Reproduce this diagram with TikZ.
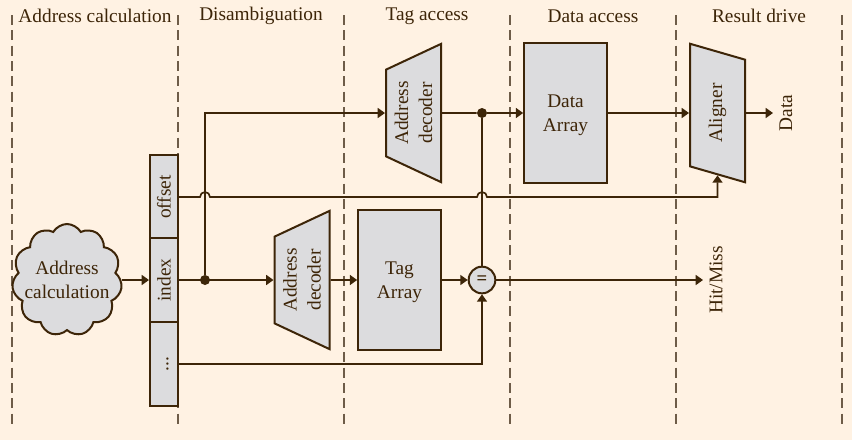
\documentclass[tikz,border=0pt]{standalone}
\usepackage{fontspec}
\setmainfont{Liberation Serif}
\usetikzlibrary{arrows.meta,shapes.geometric,shapes.symbols}
\definecolor{pagebg}{HTML}{FFF2E3}
\definecolor{inkbrown}{HTML}{3D2508}
\definecolor{blockgray}{HTML}{DCDCDE}
\definecolor{phaseline}{HTML}{6E5C48}
\newcommand{\lowerline}{\rule{0pt}{13.5pt}}

\begin{document}
\begin{tikzpicture}[
    x=0.75pt,y=-0.75pt,
    every node/.style={font=\fontsize{14.5}{18}\selectfont,text=inkbrown,align=center},
    phase/.style={phaseline,line width=0.8pt,dash pattern=on 7.5pt off 4pt},
    wire/.style={inkbrown,line width=1.25pt},
    msg/.style={wire,-{Triangle[length=5.5pt,width=7.5pt]}},
    block/.style={draw=inkbrown,line width=1.5pt,fill=blockgray,inner sep=0pt,minimum width=62pt,minimum height=104.5pt},
    field/.style={draw=inkbrown,line width=1.5pt,fill=blockgray,inner sep=0pt,minimum width=21pt,minimum height=62.5pt},
    decoder/.style={trapezium,trapezium stretches=true,trapezium left angle=63.4,trapezium right angle=63.4,rotate=90,draw=inkbrown,line width=1.5pt,fill=blockgray,inner sep=0pt,minimum width=104.5pt,minimum height=41.25pt},
    shifter/.style={decoder,trapezium left angle=63.4,trapezium right angle=116.6},
    joint/.style={circle,fill=inkbrown,inner sep=0pt,minimum size=7.5pt},
    cmp/.style={circle,draw=inkbrown,line width=1.5pt,fill=blockgray,inner sep=0pt,minimum size=20pt,font=\fontsize{14}{14}\selectfont\bfseries}
]
\useasboundingbox (0,0) rectangle (852,440);
\fill[pagebg] (0,0) rectangle (852,440);

% pipeline stages
\foreach \px in {12,178,344,510,676,842}
    \draw[phase] (\px,15) -- (\px,428);
\node (stageA) at (95,16) {Address calculation};
\node (stageB) at (261,16) {Disambiguation};
\node (stageC) at (427,16) {Tag access};
\node (stageD) at (593,16) {Data access};
\node (stageE) at (759,16) {Result drive};

\node[cloud,cloud puffs=11,cloud puff arc=120,cloud ignores aspect,draw=inkbrown,line width=1.5pt,fill=blockgray,inner sep=0pt,minimum width=82.5pt,minimum height=84pt] (calc) at (67,280) {};
\node (calcText) at (calc.center) {Address\\calculation};

\node[field] (offset) at (164,197) {\rotatebox{90}{offset}};
\node[field] (index) at (164,280) {\rotatebox{90}{index}};
\node[field] (rest) at (164,364) {\rotatebox{90}{\vphantom{x}...}};

\node[decoder] (decTag) at (302,280) {Address\\decoder};
\node[decoder] (decData) at (413.5,113) {Address\\decoder};
\node[block] (tagArr) at (399.5,280) {\lowerline Tag\\Array};
\node[block] (dataArr) at (565.5,113) {\lowerline Data\\Array};
\node[shifter] (aligner) at (717.5,113) {Aligner};
\node[cmp] (eq) at (482,280) {=};
\node[joint] (idxdot) at (205,280) {};
\node[joint] (datadot) at (482,113) {};

\node[rotate=90] (dataOut) at (786,113) {Data};
\node[rotate=90] (hitOut) at (716,280) {Hit/Miss};
\coordinate (dataEnd) at (773,113);
\coordinate (hitEnd) at (703,280);

\draw[msg] (calc.east |- index) -- (index);
\draw[msg] (index) -- (decTag.north);
\draw[msg] (idxdot) -- (idxdot |- decData.north) -- (decData.north);
\draw[msg] (decTag.south) -- (tagArr);
\draw[msg] (tagArr) -- (eq);
\draw[wire] (decData.south) -- (datadot);
\draw[msg] (datadot) -- (dataArr);
\draw[wire] (datadot) -- (eq);
\draw[msg] (dataArr) -- (aligner.north);
\draw[msg] (aligner.south) -- (dataEnd);
\draw[msg] (eq) -- (hitEnd);
\draw[msg] (rest) -- (eq |- rest) -- (eq);
\draw[msg] (offset) -- ([xshift=-3.75pt]idxdot |- offset) arc[start angle=180,end angle=0,radius=3.75pt]
    -- ([xshift=-3.75pt]datadot |- offset) arc[start angle=180,end angle=0,radius=3.75pt]
    -- (aligner.west |- offset) -- (aligner.west);
\end{tikzpicture}
\end{document}
